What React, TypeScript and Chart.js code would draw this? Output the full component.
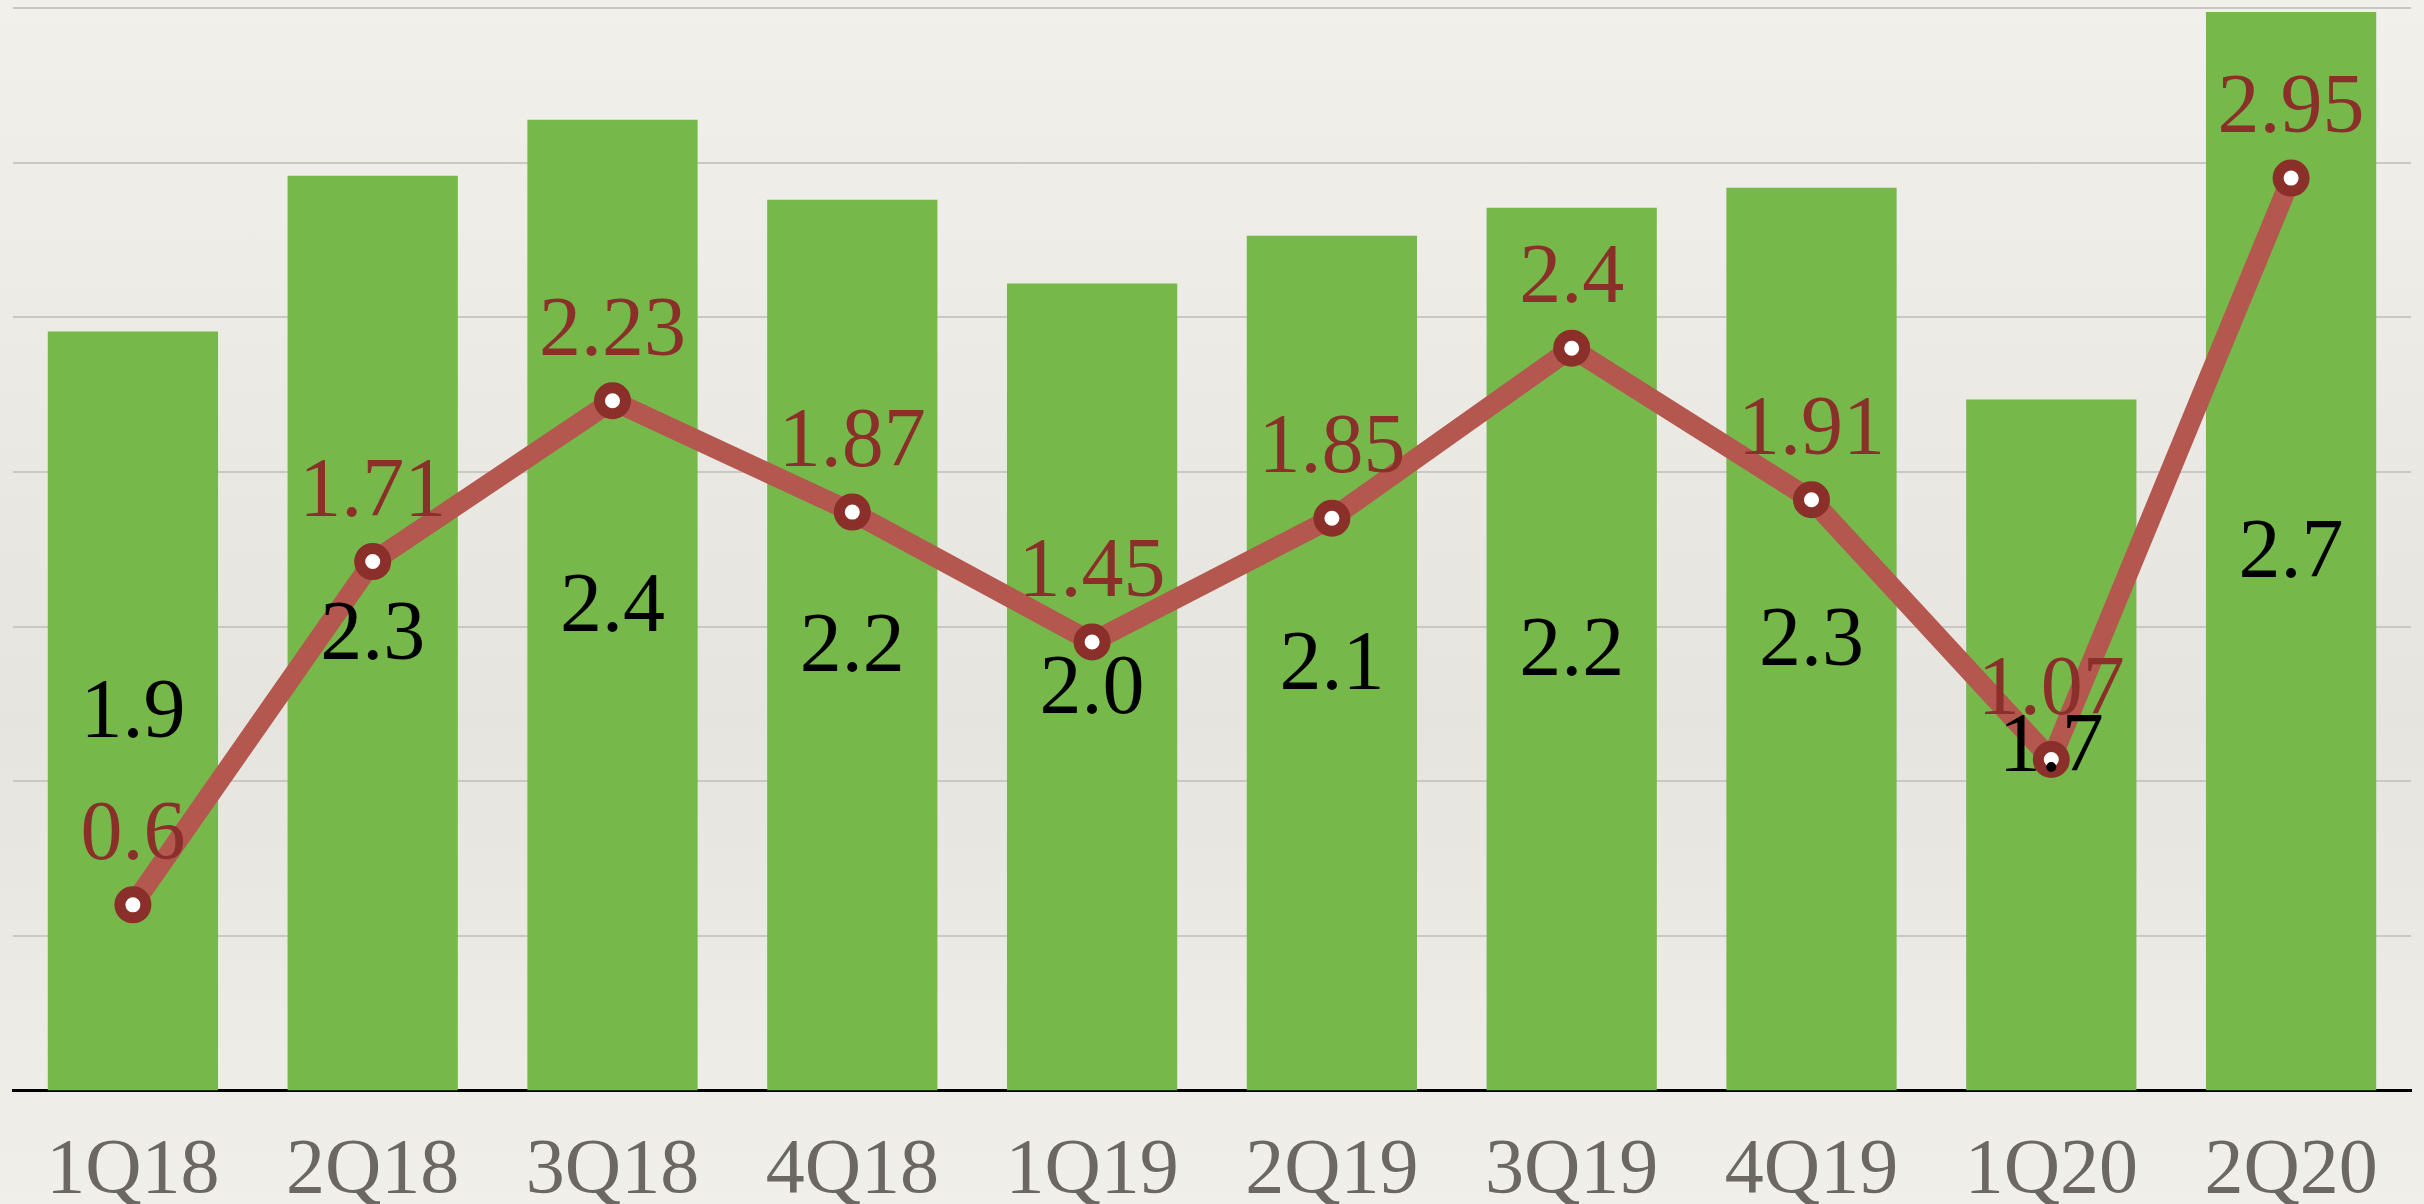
import React, { useEffect, useRef } from "react";
import { Chart, registerables } from "chart.js";

Chart.register(...registerables);

const categories = ["1Q18", "2Q18", "3Q18", "4Q18", "1Q19", "2Q19", "3Q19", "4Q19", "1Q20", "2Q20"];
const barValues = [1.9, 2.29, 2.43, 2.23, 2.02, 2.14, 2.21, 2.26, 1.73, 2.7];
const barLabels = ["1.9", "2.3", "2.4", "2.2", "2.0", "2.1", "2.2", "2.3", "1.7", "2.7"];
const lineValues = [0.6, 1.71, 2.23, 1.87, 1.45, 1.85, 2.4, 1.91, 1.07, 2.95];
const lineLabels = ["0.6", "1.71", "2.23", "1.87", "1.45", "1.85", "2.4", "1.91", "1.07", "2.95"];

const FONT = "'Liberation Serif', 'DejaVu Serif', serif";

const labelPlugin = {
  id: "valueLabels",
  afterDatasetsDraw(chart: any) {
    const ctx = chart.ctx;
    ctx.save();
    ctx.textAlign = "center";
    ctx.textBaseline = "middle";
    ctx.font = `84px ${FONT}`;
    const barMeta = chart.getDatasetMeta(1);
    barMeta.data.forEach((el: any, i: number) => {
      const base = el.base;
      const y = (el.y + base) / 2;
      ctx.fillStyle = "#000000";
      ctx.fillText(barLabels[i], el.x, y + 4);
    });
    const lineMeta = chart.getDatasetMeta(0);
    lineMeta.data.forEach((el: any, i: number) => {
      ctx.fillStyle = "#8a2f29";
      ctx.fillText(lineLabels[i], el.x, el.y - 68);
    });
    ctx.restore();
  },
};

export default function App() {
  const ref = useRef<HTMLCanvasElement | null>(null);
  useEffect(() => {
    document.body.style.margin = "0";
    const canvas = ref.current!;
    const chart = new Chart(canvas, {
      type: "bar",
      data: {
        labels: categories,
        datasets: [
          {
            type: "line",
            data: lineValues,
            yAxisID: "y1",
            borderColor: "#b3574f",
            borderWidth: 20,
            pointRadius: 13,
            pointBorderWidth: 11,
            pointBorderColor: "#8a2f29",
            pointBackgroundColor: "#ffffff",
            tension: 0,
            order: 0,
          } as any,
          {
            type: "bar",
            data: barValues,
            yAxisID: "y",
            backgroundColor: "#77b84a",
            barPercentage: 0.71,
            categoryPercentage: 1,
            order: 1,
          },
        ],
      },
      options: {
        animation: false,
        responsive: false,
        maintainAspectRatio: false,
        layout: { autoPadding: false, padding: { left: 13, right: 13, top: 8, bottom: -40 } },
        plugins: { legend: { display: false }, tooltip: { enabled: false } },
        scales: {
          x: {
            grid: { display: false },
            border: { display: true, color: "#000000", width: 3 },
            ticks: {
              color: "#6b6863",
              font: { family: FONT, size: 78 },
              padding: 26,
              maxRotation: 0,
            },
          },
          y: {
            display: false,
            min: 0,
            max: 2.71,
          },
          y1: {
            position: "left",
            min: 0,
            max: 3.5,
            ticks: { display: false, stepSize: 0.5 },
            grid: { color: "#c9c8c4", lineWidth: 2, drawTicks: false },
            border: { display: false },
          },
        },
      },
      plugins: [labelPlugin],
    });
    return () => chart.destroy();
  }, []);
  return (
    <div
      style={{
        width: 2424,
        height: 1204,
        background: "linear-gradient(180deg, #f1f0eb 0%, #e8e7e2 45%, #e5e4df 60%, #f0efea 100%)",
      }}
    >
      <canvas ref={ref} width={2424} height={1204} style={{ display: "block" }} />
    </div>
  );
}
